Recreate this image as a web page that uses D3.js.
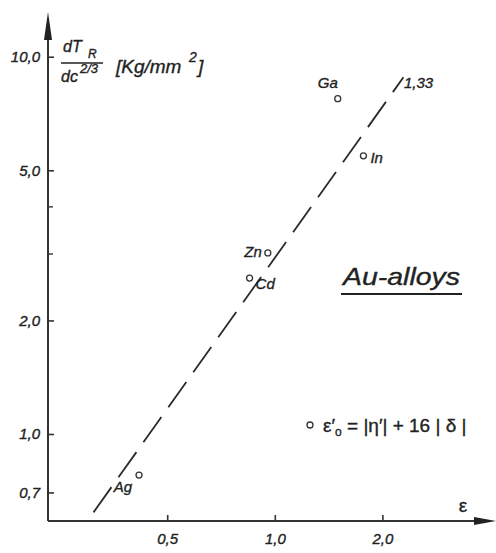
<!DOCTYPE html>
<html>
<head>
<meta charset="utf-8">
<script src="https://cdn.jsdelivr.net/npm/d3@7"></script>
<style>
  html, body { margin: 0; padding: 0; background: #fff; }
  svg { display: block; }
  text { font-family: "Liberation Sans", "DejaVu Sans", sans-serif; font-style: italic; fill: #222; stroke: #222; stroke-width: 0.35px; }
</style>
</head>
<body>
<svg id="chart" width="496" height="553"></svg>
<script>
// Solutes in gold and their (ε'0, dτR/dc^(2/3)) values
const elements = ["Ga", "In", "Zn", "Cd", "Ag"];
const epsValues = [1.50, 1.77, 0.956, 0.85, 0.417];
const hardening = [7.74, 5.46, 3.02, 2.59, 0.778];

// Fitted power law with exponent 1.33
const fitExponent = 1.33;
const fitCoefficient = 2.93;
const fitRange = [0.311, 2.29];

const xTickValues = [0.5, 1.0, 2.0];
const xTickLabels = ["0,5", "1,0", "2,0"];
const yTickValues = [0.7, 1.0, 2.0, 5.0, 10.0];
const yTickLabels = ["0,7", "1,0", "2,0", "5,0", "10,0"];
const yMinorTicks = [3.0, 4.0];

const svg = d3.select("#chart");
const ink = "#222";

const x = d3.scaleLog().domain([0.232, 4.0]).range([48, 490]);
const y = d3.scaleLog().domain([0.588, 12.9]).range([521, 15]);

// Axes lines with arrowheads
const axisG = svg.append("g").attr("stroke", "#333").attr("stroke-width", 2).attr("fill", "none");
axisG.append("line").attr("x1", x.range()[0]).attr("x2", 480).attr("y1", y.range()[0]).attr("y2", y.range()[0]);
axisG.append("line").attr("x1", x.range()[0]).attr("x2", x.range()[0]).attr("y1", y.range()[0]).attr("y2", 28);
svg.append("path")
  .attr("d", `M496,${y.range()[0]} L474,${y.range()[0] - 4} L474,${y.range()[0] + 4} Z`)
  .attr("fill", "#222");
svg.append("path")
  .attr("d", `M${x.range()[0]},12 L${x.range()[0] - 4},40 L${x.range()[0] + 4},40 Z`)
  .attr("fill", "#222");

// Y axis ticks (inward) and labels
const yAxis = d3.axisLeft(y)
  .tickValues(yTickValues)
  .tickFormat((d, i) => yTickLabels[i])
  .tickSizeInner(-6)
  .tickSizeOuter(0)
  .tickPadding(8);
const gy = svg.append("g").attr("transform", `translate(${x.range()[0]},0)`).call(yAxis);
gy.select(".domain").remove();
gy.selectAll(".tick line").attr("stroke", "#333").attr("stroke-width", 1.6);
gy.selectAll(".tick text").attr("font-size", 15).attr("fill", ink)
  .attr("font-family", "Liberation Sans, sans-serif").attr("font-style", "italic");

svg.append("g").selectAll("line").data(yMinorTicks).join("line")
  .attr("x1", x.range()[0]).attr("x2", x.range()[0] + 5)
  .attr("y1", d => y(d)).attr("y2", d => y(d))
  .attr("stroke", "#333").attr("stroke-width", 1.4);

// X axis ticks (inward) and labels
const xAxis = d3.axisBottom(x)
  .tickValues(xTickValues)
  .tickFormat((d, i) => xTickLabels[i])
  .tickSizeInner(-6)
  .tickSizeOuter(0)
  .tickPadding(12);
const gx = svg.append("g").attr("transform", `translate(0,${y.range()[0]})`).call(xAxis);
gx.select(".domain").remove();
gx.selectAll(".tick line").attr("stroke", "#333").attr("stroke-width", 1.6);
gx.selectAll(".tick text").attr("font-size", 15).attr("fill", ink)
  .attr("font-family", "Liberation Sans, sans-serif").attr("font-style", "italic");

// Axis titles
svg.append("text").attr("x", 463).attr("y", 512).attr("font-size", 19)
  .style("font-style", "normal")
  .attr("text-anchor", "middle").text("ε");

const yt = svg.append("g");
yt.append("text").attr("x", 63).attr("y", 52).attr("font-size", 16).text("dT");
yt.append("text").attr("x", 88).attr("y", 58).attr("font-size", 12).text("R");
yt.append("line").attr("x1", 61).attr("x2", 103).attr("y1", 63).attr("y2", 63)
  .attr("stroke", ink).attr("stroke-width", 1.4);
yt.append("text").attr("x", 61).attr("y", 82).attr("font-size", 16).text("dc");
yt.append("text").attr("x", 80).attr("y", 73).attr("font-size", 13).text("2/3");
yt.append("text").attr("x", 116).attr("y", 73).attr("font-size", 19).text("[Kg/mm");
yt.append("text").attr("x", 189).attr("y", 62).attr("font-size", 14).text("2");
yt.append("text").attr("x", 198).attr("y", 73).attr("font-size", 19).text("]");

// Fitted power law, dashed
const fitPoints = fitRange.map(v => [v, fitCoefficient * Math.pow(v, fitExponent)]);
svg.append("path")
  .datum(fitPoints)
  .attr("d", d3.line().x(d => x(d[0])).y(d => y(d[1])))
  .attr("fill", "none")
  .attr("stroke", "#2a2a2a")
  .attr("stroke-width", 1.8)
  .attr("stroke-dasharray", "31,12");
svg.append("text").attr("x", 404).attr("y", 88).attr("font-size", 15).text("1,33");

// Data points
const points = elements.map((name, i) => ({ name, eps: epsValues[i], tau: hardening[i] }));
svg.append("g").selectAll("circle").data(points).join("circle")
  .attr("cx", d => x(d.eps))
  .attr("cy", d => y(d.tau))
  .attr("r", 3)
  .attr("fill", "none")
  .attr("stroke", "#333")
  .attr("stroke-width", 1.3);

// Point labels (offsets from each point)
const labelOffsets = {
  Ga: [-20, -11, "start"],
  In: [7, 7, "start"],
  Zn: [-6, 4, "end"],
  Cd: [6, 11, "start"],
  Ag: [-7, 17, "end"]
};
svg.append("g").selectAll("text").data(points).join("text")
  .attr("x", d => x(d.eps) + labelOffsets[d.name][0])
  .attr("y", d => y(d.tau) + labelOffsets[d.name][1])
  .attr("text-anchor", d => labelOffsets[d.name][2])
  .attr("font-size", 15)
  .text(d => d.name);

// Group title
svg.append("text").attr("x", 343).attr("y", 285).attr("font-size", 24)
  .attr("textLength", 117).attr("lengthAdjust", "spacingAndGlyphs").text("Au-alloys");
svg.append("line").attr("x1", 341).attr("x2", 462).attr("y1", 294).attr("y2", 294)
  .attr("stroke", ink).attr("stroke-width", 1.8);

// Key for the abscissa definition
svg.append("circle").attr("cx", 310).attr("cy", 425).attr("r", 3)
  .attr("fill", "none").attr("stroke", "#333").attr("stroke-width", 1.3);
const key = svg.append("text").attr("x", 323).attr("y", 432).attr("font-size", 19)
  .style("font-style", "normal");
key.append("tspan").text("ε′");
key.append("tspan").attr("font-size", 12).attr("dy", 4).text("o");
key.append("tspan").attr("dy", -4).text(" = |η′| + 16 | δ |");
</script>
</body>
</html>
